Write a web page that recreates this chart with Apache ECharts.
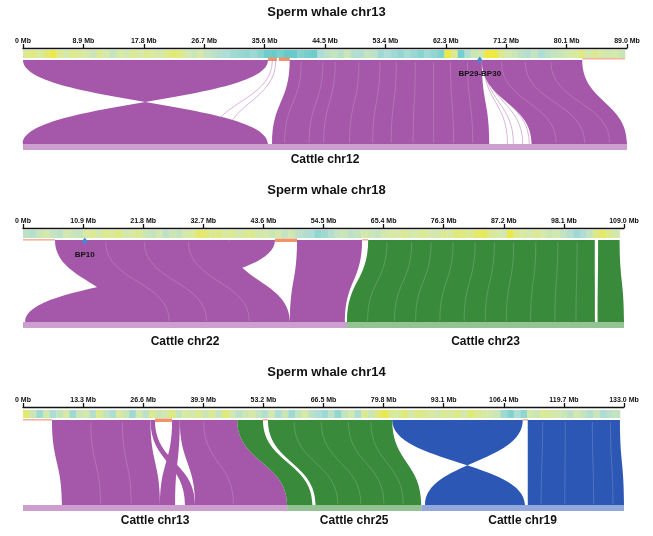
<!DOCTYPE html>
<html><head><meta charset="utf-8">
<script src="https://cdn.jsdelivr.net/npm/echarts@6/dist/echarts.min.js"></script>
<style>html,body{margin:0;padding:0;background:#fff}#c{width:653px;height:536px}</style>
</head><body><div id="c"></div>
<script>
// ================= DATA =================
const panelTitles = ['Sperm whale chr13', 'Sperm whale chr18', 'Sperm whale chr14'];
const whaleAxisMax = [89.0, 109.0, 133.0];
const whaleTickStep = [8.9, 10.9, 13.3];
const whaleLength = [88.7, 108.2, 132.1];

// cattle chromosomes under each panel
const cattleNames = [['Cattle chr12'], ['Cattle chr22', 'Cattle chr23'], ['Cattle chr13', 'Cattle chr25', 'Cattle chr19']];
const cattleLengths = [[91.2], [61.4, 52.5], [83.5, 42.4, 64.1]];
const cattleColor = [[0], [0, 1], [0, 1, 2]]; // 0 purple, 1 green, 2 blue

// gene-density heat strip (0 = teal ... 1 = yellow), equal bins along the whale chromosome
const density13 = [0.7,0.75,0.65,0.8,0.95,0.7,0.6,0.72,0.68, 0.62,0.55,0.7,0.6,0.5,0.65,0.58,0.7,0.62,
  0.7,0.66,0.6,0.72,0.8,0.75,0.6,0.55,0.62, 0.5,0.45,0.38,0.35,0.3,0.28,0.25,0.3,0.22,
  0.12,0.1,0.15,0.08,0.1,0.2,0.15,0.12,0.35, 0.45,0.5,0.42,0.55,0.4,0.38,0.5,0.45,0.3,
  0.35,0.3,0.25,0.32,0.28,0.22,0.3,0.25,0.2, 0.95,0.7,0.15,0.4,0.55,0.6,1.0,0.98,0.7,
  0.6,0.55,0.45,0.4,0.5,0.35,0.45,0.5,0.55, 0.6,0.65,0.75,0.6,0.7,0.65,0.58,0.62,0.55];
const density18 = [0.45,0.4,0.55,0.6,0.5,0.45,0.6,0.55,0.5, 0.65,0.7,0.6,0.72,0.68,0.75,0.6,0.65,0.7,
  0.55,0.5,0.6,0.45,0.55,0.5,0.6,0.65,0.85, 0.8,0.7,0.75,0.65,0.7,0.6,0.68,0.72,0.6,
  0.62,0.55,0.6,0.5,0.58,0.45,0.4,0.35,0.25, 0.3,0.4,0.5,0.55,0.45,0.5,0.6,0.55,0.5,
  0.6,0.65,0.62,0.7,0.6,0.65,0.7,0.62,0.6, 0.7,0.65,0.8,0.75,0.7,0.85,0.9,0.7,0.65,
  0.6,0.95,0.7,0.65,0.6,0.7,0.62,0.55,0.6, 0.5,0.4,0.3,0.35,0.5,0.75,0.85,0.7,0.6];
const density14 = [0.8,0.55,0.3,0.6,0.35,0.5,0.65,0.3,0.55, 0.6,0.4,0.7,0.5,0.35,0.65,0.55,0.3,0.6,
  0.45,0.7,0.55,0.6,0.75,0.5,0.65,0.6,0.7, 0.55,0.7,0.5,0.8,0.6,0.45,0.55,0.65,0.5,
  0.4,0.6,0.35,0.55,0.3,0.5,0.65,0.45,0.35, 0.3,0.45,0.25,0.5,0.6,0.35,0.7,0.55,0.75,
  0.95,0.7,0.65,0.8,0.6,0.75,0.7,0.65,0.6, 0.7,0.65,0.75,0.6,0.8,0.7,0.65,0.6,0.55,
  0.3,0.2,0.35,0.25,0.6,0.55,0.7,0.65,0.6, 0.55,0.45,0.6,0.5,0.4,0.55,0.35,0.45,0.5];

// synteny blocks: [whaleStart, whaleEnd, cattleChrIndex, cattleStart, cattleEnd, strand]  (Mb)
const blocks13 = [
  [0.0, 36.1, 0, 0.0, 37.0, -1],
  [36.7, 36.8, 0, 28.0, 28.1, 1],
  [37.2, 37.3, 0, 30.5, 30.6, 1],
  [39.3, 67.6, 0, 37.6, 70.4, 1],
  [67.6, 82.4, 0, 76.8, 91.2, 1],
  [67.8, 67.9, 0, 73.1, 73.2, 1],
  [67.9, 68.0, 0, 74.0, 74.1, 1],
  [68.0, 68.1, 0, 75.4, 75.5, 1],
  [68.1, 68.2, 0, 76.4, 76.5, 1]
];
const blocks18 = [
  [5.8, 37.5, 0, 18.4, 50.6, 1],
  [37.5, 45.7, 0, 0.4, 18.4, 1],
  [49.7, 61.5, 0, 50.6, 61.0, 1],
  [62.6, 103.7, 1, 0.0, 47.0, 1],
  [104.3, 108.2, 1, 47.5, 52.5, 1]
];
const blocks14 = [
  [6.4, 28.2, 0, 12.3, 43.3, 1],
  [28.2, 29.2, 0, 51.2, 54.4, 1],
  [33.0, 34.7, 0, 43.3, 48.1, 1],
  [34.7, 47.4, 0, 54.4, 83.5, 1],
  [47.4, 53.1, 1, 0.0, 8.0, 1],
  [54.2, 81.7, 1, 9.0, 42.4, 1],
  [81.7, 110.6, 2, 1.2, 32.8, -1],
  [111.7, 132.1, 2, 33.7, 64.1, 1]
];

// fine white streaks inside blocks: [whalePos, cattleChrIndex, cattlePos]
const streaks13 = [[41.0,0,39.5],[44.2,0,43.2],[46.0,0,45.4],[49.5,0,49.3],[52.6,0,52.8],[55.0,0,55.6],[57.8,0,58.9],
  [60.5,0,62.0],[63.0,0,65.0],[65.5,0,67.9],[70.5,0,80.5],[74.0,0,84.8],[77.8,0,88.6]];
const streaks18 = [[15.0,0,27.7],[22.0,0,34.8],[30.0,0,42.9],
  [66.0,1,3.9],[70.5,1,9.0],[74.0,1,13.0],[78.0,1,17.6],[82.0,1,22.2],[85.5,1,26.2],[89.0,1,30.2],
  [93.0,1,34.8],[97.0,1,39.4],[100.5,1,43.4]];
const streaks14 = [[15.0,0,24.5],[22.0,0,34.2],[40.0,0,66.5],
  [60.0,1,16.0],[66.0,1,23.3],[72.0,1,30.6],[77.0,1,36.7],
  [115.0,2,37.9],[120.0,2,45.4],[126.0,2,54.5],[130.0,2,60.6]];

// unaligned whale regions: [start, end, weight]
const gaps13 = [[36.1, 37.4, 2], [37.7, 39.3, 2], [82.4, 88.7, 1]];
const gaps18 = [[0, 5.8, 1], [45.7, 49.7, 2], [61.5, 62.6, 1]];
const gaps14 = [[0, 6.4, 1], [29.2, 33.0, 2], [53.1, 54.2, 1], [110.6, 111.7, 1]];

// breakpoints
const bpPos13 = [67.3]; const bpName13 = ['BP29-BP30'];
const bpPos18 = [11.2]; const bpName18 = ['BP10'];
const bpPos14 = []; const bpName14 = [];

// ================= STYLE / LAYOUT =================
const densities = [density13, density18, density14];
const blocks = [blocks13, blocks18, blocks14];
const streaks = [streaks13, streaks18, streaks14];
const gaps = [gaps13, gaps18, gaps14];
const bpPos = [bpPos13, bpPos18, bpPos14];
const bpName = [bpName13, bpName18, bpName14];

const ribbonColors = ['#a557a9', '#3a8a3c', '#2c57b4'];
const barColors = ['#cc9fcf', '#93c293', '#93a8dc'];
const grids = [
  {left: 23, right: 26, top: 48, height: 102},
  {left: 23, right: 29, top: 228, height: 101},
  {left: 23, right: 29, top: 407, height: 104}
];
const layout = [
  {stripTop: 2, stripH: 8, gapY: 11, ribTop: 12, ribBot: 96, barH: 6, labelY: 112, titleTop: 1},
  {stripTop: 2, stripH: 8, gapY: 12, ribTop: 12, ribBot: 94, barH: 6, labelY: 114, titleTop: 179},
  {stripTop: 3, stripH: 8, gapY: 13, ribTop: 13, ribBot: 98, barH: 6, labelY: 114, titleTop: 361}
];

const stops = [[0, [78, 196, 196]], [0.35, [172, 221, 214]], [0.62, [214, 233, 170]], [1, [238, 233, 60]]];
function densColor(v) {
  for (let i = 1; i < stops.length; i++) {
    if (v <= stops[i][0]) {
      const a = stops[i - 1], b = stops[i];
      const t = (v - a[0]) / (b[0] - a[0]);
      const c = a[1].map((x, k) => Math.round(x + (b[1][k] - x) * t));
      return 'rgb(' + c.join(',') + ')';
    }
  }
  return 'rgb(238,233,60)';
}

const chart = echarts.init(document.getElementById('c'), null, {renderer: 'canvas'});
const font = '"Liberation Sans", Arial, sans-serif';

const xAxes = [], yAxes = [], series = [], titles = [];
for (let p = 0; p < 3; p++) {
  const L = layout[p];
  const cattleTotal = cattleLengths[p].reduce((a, b) => a + b, 0);
  const offsets = []; let acc = 0;
  cattleLengths[p].forEach(l => { offsets.push(acc); acc += l; });
  // both axes of a panel span the same grid width, so a cattle track value maps onto the top axis by its range ratio
  const toTopUnits = v => v * whaleAxisMax[p] / cattleTotal;

  titles.push({text: panelTitles[p], left: 'center', top: L.titleTop,
    textStyle: {fontSize: 13, fontWeight: 'bold', color: '#111', fontFamily: font}});

  xAxes.push({type: 'value', gridIndex: p, position: 'top', min: 0, max: whaleAxisMax[p], interval: whaleTickStep[p],
    axisLine: {show: true, onZero: false, lineStyle: {color: '#111', width: 1.3}},
    axisTick: {show: true, length: 4, lineStyle: {color: '#111', width: 1.3}},
    splitLine: {show: false},
    axisLabel: {fontSize: 7, fontWeight: 'bold', color: '#111', margin: 3, fontFamily: font,
      formatter: v => v === 0 ? '0 Mb' : v.toFixed(1) + ' Mb'}});
  xAxes.push({type: 'value', gridIndex: p, position: 'bottom', min: 0, max: cattleTotal, show: false});
  yAxes.push({type: 'value', gridIndex: p, min: 0, max: 1, show: false});

  // heat strip
  const dens = densities[p];
  const bw = whaleLength[p] / dens.length;
  const stripData = dens.map((v, i) => [i * bw, (i + 1) * bw, v]);
  series.push({type: 'custom', xAxisIndex: 2 * p, yAxisIndex: p, data: stripData, silent: true,
    renderItem: (params, api) => {
      const cs = params.coordSys;
      const x1 = api.coord([api.value(0), 0])[0], x2 = api.coord([api.value(1), 0])[0];
      return {type: 'rect', shape: {x: x1, y: cs.y + L.stripTop, width: x2 - x1 + 0.4, height: L.stripH},
        style: {fill: densColor(api.value(2))}};
    }});

  // unaligned regions
  series.push({type: 'custom', xAxisIndex: 2 * p, yAxisIndex: p, data: gaps[p], silent: true,
    renderItem: (params, api) => {
      const cs = params.coordSys;
      const x1 = api.coord([api.value(0), 0])[0], x2 = api.coord([api.value(1), 0])[0];
      const w = api.value(2);
      return {type: 'rect', shape: {x: x1, y: cs.y + L.gapY - (w > 1 ? 1.5 : 1), width: x2 - x1, height: w > 1 ? 3.5 : 1.6},
        style: {fill: w > 1 ? '#f0926a' : '#f6b29a'}};
    }});

  // ribbons
  const ribData = blocks[p].map(b => [b[0], b[1], toTopUnits(offsets[b[2]] + b[3]), toTopUnits(offsets[b[2]] + b[4]), b[5], cattleColor[p][b[2]]]);
  series.push({type: 'custom', xAxisIndex: 2 * p, yAxisIndex: p, data: ribData, silent: true,
    renderItem: (params, api) => {
      const cs = params.coordSys;
      const a1 = api.coord([api.value(0), 0])[0], a2 = api.coord([api.value(1), 0])[0];
      const b1 = api.coord([api.value(2), 0])[0], b2 = api.coord([api.value(3), 0])[0];
      const inv = api.value(4) < 0;
      const col = ribbonColors[api.value(5)];
      const yT = cs.y + L.ribTop, yB = cs.y + L.ribBot, ym = (yT + yB) / 2;
      const e1 = inv ? b2 : b1, e2 = inv ? b1 : b2;
      if (a2 - a1 < 1.5) {
        const xm = (a1 + a2) / 2, xe = (e1 + e2) / 2;
        return {type: 'path', shape: {pathData: `M${xm},${yT} C${xm},${ym} ${xe},${ym} ${xe},${yB}`},
          style: {fill: null, stroke: col, lineWidth: 0.8, opacity: 0.55}};
      }
      const d = `M${a1},${yT} L${a2},${yT} C${a2},${ym} ${e2},${ym} ${e2},${yB} L${e1},${yB} C${e1},${ym} ${a1},${ym} ${a1},${yT} Z`;
      return {type: 'path', shape: {pathData: d}, style: {fill: col, stroke: null}};
    }});

  // white streaks
  const stData = streaks[p].map(s => [s[0], toTopUnits(offsets[s[1]] + s[2])]);
  series.push({type: 'custom', xAxisIndex: 2 * p, yAxisIndex: p, data: stData, silent: true, z: 3,
    renderItem: (params, api) => {
      const cs = params.coordSys;
      const a = api.coord([api.value(0), 0])[0], b = api.coord([api.value(1), 0])[0];
      const yT = cs.y + L.ribTop + 2, yB = cs.y + L.ribBot - 1, ym = (yT + yB) / 2;
      return {type: 'path', shape: {pathData: `M${a},${yT} C${a},${ym} ${b},${ym} ${b},${yB}`},
        style: {fill: null, stroke: '#ffffff', lineWidth: 0.6, opacity: 0.28}};
    }});

  // cattle chromosome bars + labels
  const barData = cattleLengths[p].map((l, i) => [offsets[i], offsets[i] + l, cattleColor[p][i]]);
  series.push({type: 'custom', xAxisIndex: 2 * p + 1, yAxisIndex: p, data: barData, silent: true,
    renderItem: (params, api) => {
      const cs = params.coordSys;
      const x1 = api.coord([api.value(0), 0])[0], x2 = api.coord([api.value(1), 0])[0];
      return {type: 'group', children: [
        {type: 'rect', shape: {x: x1, y: cs.y + L.ribBot, width: x2 - x1, height: L.barH}, style: {fill: barColors[api.value(2)]}},
        {type: 'text', style: {text: cattleNames[p][params.dataIndex], x: (x1 + x2) / 2, y: cs.y + L.labelY,
          align: 'center', verticalAlign: 'middle', font: 'bold 12px ' + font, fill: '#111'}}
      ]};
    }});

  // breakpoints
  series.push({type: 'custom', xAxisIndex: 2 * p, yAxisIndex: p, data: bpPos[p].map(v => [v]), silent: true, z: 10,
    renderItem: (params, api) => {
      const cs = params.coordSys;
      const x = api.coord([api.value(0), 0])[0];
      const y = cs.y + L.gapY + 1;
      return {type: 'group', children: [
        {type: 'path', shape: {pathData: `M${x},${y - 3.5} L${x + 2.6},${y} L${x},${y + 3.5} L${x - 2.6},${y} Z`}, style: {fill: '#3a8fd8'}},
        {type: 'text', style: {text: bpName[p][params.dataIndex], x: x, y: y + 14, align: 'center', verticalAlign: 'middle',
          font: 'bold 8px ' + font, fill: '#111'}}
      ]};
    }});
}

chart.setOption({
  animation: false,
  backgroundColor: '#fff',
  title: titles,
  grid: grids,
  xAxis: xAxes,
  yAxis: yAxes,
  series: series
});
</script></body></html>
